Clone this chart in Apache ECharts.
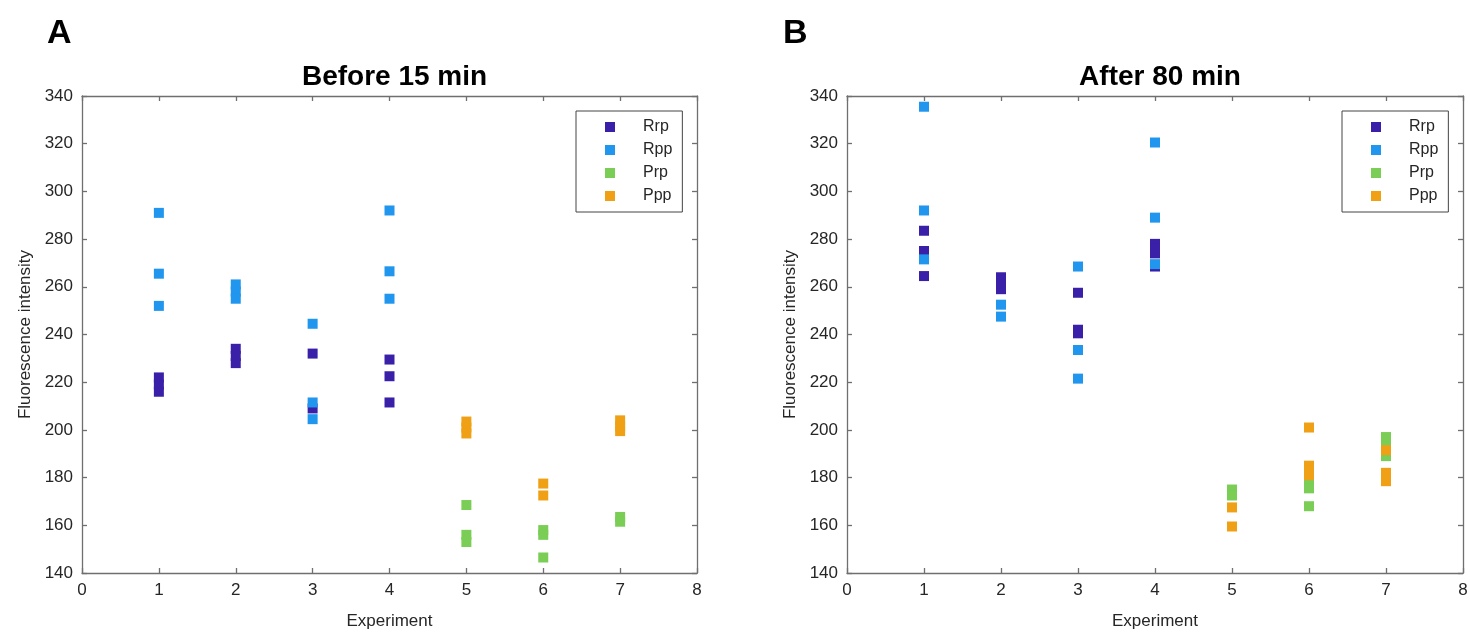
<!DOCTYPE html>
<html><head><meta charset="utf-8">
<script src="https://cdn.jsdelivr.net/npm/echarts@6/dist/echarts.min.js"></script>
<style>html,body{margin:0;padding:0;background:#fff}#c{width:1470px;height:633px}</style>
</head><body><div id="c"></div>
<script>
// Panel A: Before 15 min  [experiment, fluorescence intensity]
var beforeRrp = [[1,222],[1,219],[1,216],[2,234],[2,231],[2,228],[3,232],[3,209],[4,229.5],[4,222.5],[4,211.5]];
var beforeRpp = [[1,291],[1,265.5],[1,252],[2,261],[2,258],[2,255],[3,244.5],[3,211.5],[3,204.5],[4,292],[4,266.5],[4,255]];
var beforePrp = [[5,168.5],[5,156],[5,153],[6,158],[6,156],[6,146.5],[7,163.5],[7,161.5]];
var beforePpp = [[5,203.5],[5,201],[5,198.5],[6,177.5],[6,172.5],[7,204],[7,201.5],[7,199.5]];
// Panel B: After 80 min
var afterRrp = [[1,283.5],[1,275],[1,264.5],[2,264],[2,261.5],[2,259],[3,257.5],[3,242],[3,240.5],[4,278],[4,276],[4,274],[4,268.5]];
var afterRpp = [[1,335.5],[1,292],[1,271.5],[2,252.5],[2,247.5],[3,268.5],[3,233.5],[3,221.5],[4,320.5],[4,289],[4,269.5]];
var afterPrp = [[5,175],[5,172.5],[6,178.5],[6,175.5],[6,168],[7,197],[7,193],[7,189]];
var afterPpp = [[5,167.5],[5,159.5],[6,201],[6,185],[6,183],[6,181],[7,191.5],[7,182],[7,178.5]];

var seriesNames = ['Rrp','Rpp','Prp','Ppp'];
var seriesColors = ['#3A20A8','#2196EE','#7ACD55','#F0A015'];
var panelTitles = ['Before 15 min','After 80 min'];
var panelLetters = ['A','B'];
var xMin = 0, xMax = 8, xStep = 1;
var yMin = 140, yMax = 340, yStep = 20;

var FONT = 'Liberation Sans, Arial, sans-serif';
var AX = '#6f6f6f';
var grids = [
  {left: 82, top: 96, width: 615, height: 477, outerBoundsMode: 'none', containLabel: false},
  {left: 847, top: 96, width: 616, height: 477, outerBoundsMode: 'none', containLabel: false}
];

var xAxes = [], yAxes = [], series = [], legends = [], titles = [];
function axisCommon(showLabel){
  return {
    axisLine: {show: true, onZero: false, lineStyle: {color: AX, width: 1.3}},
    axisTick: {show: true, inside: true, length: 5, lineStyle: {color: AX, width: 1.3}},
    splitLine: {show: false},
    axisLabel: {show: showLabel, color: '#262626', fontSize: 17, fontFamily: FONT}
  };
}
var panelData = [[beforeRrp, beforeRpp, beforePrp, beforePpp],[afterRrp, afterRpp, afterPrp, afterPpp]];
for (var p = 0; p < 2; p++) {
  ['bottom','top'].forEach(function(pos, k){
    var a = axisCommon(k === 0);
    a.type = 'value'; a.gridIndex = p; a.position = pos;
    a.min = xMin; a.max = xMax; a.interval = xStep;
    a.axisLabel.margin = 9;
    if (k === 0) { a.name = 'Experiment'; a.nameLocation = 'middle'; a.nameGap = 40;
      a.nameTextStyle = {fontSize: 17, color: '#262626', fontFamily: FONT}; }
    xAxes.push(a);
  });
  ['left','right'].forEach(function(pos, k){
    var a = axisCommon(k === 0);
    a.type = 'value'; a.gridIndex = p; a.position = pos;
    a.min = yMin; a.max = yMax; a.interval = yStep;
    a.axisLabel.margin = 9;
    if (k === 0) { a.name = 'Fluorescence intensity'; a.nameLocation = 'middle'; a.nameGap = 48;
      a.nameTextStyle = {fontSize: 17, color: '#262626', fontFamily: FONT}; }
    yAxes.push(a);
  });
  for (var s = 0; s < 4; s++) {
    series.push({
      type: 'scatter', name: seriesNames[s], xAxisIndex: p*2, yAxisIndex: p*2,
      data: panelData[p][s], symbol: 'rect', symbolSize: 10,
      itemStyle: {color: seriesColors[s], opacity: 1}, z: 2 + s
    });
  }
  var g = grids[p];
  legends.push({
    orient: 'vertical', left: g.left + g.width - 121, top: 111,
    data: seriesNames.map(function(n, i){ return {name: n, icon: 'rect', itemStyle: {color: seriesColors[i]}}; }),
    itemWidth: 10, itemHeight: 10, itemGap: 7, itemStyle: {opacity: 1},
    textStyle: {fontSize: 16, color: '#262626', fontFamily: FONT, padding: [0, 0, 0, 23]},
    padding: [8, 10, 8, 29], borderColor: '#444', borderWidth: 1, backgroundColor: '#fff',
    selectedMode: false
  });
  titles.push({text: panelTitles[p], left: g.left + g.width/2, top: 58, textAlign: 'center',
    textStyle: {fontSize: 28, fontWeight: 'bold', color: '#000', fontFamily: FONT}});
  titles.push({text: panelLetters[p], left: p === 0 ? 42 : 778, top: 12,
    textStyle: {fontSize: 34, fontWeight: 'bold', color: '#000', fontFamily: FONT}});
}

var chart = echarts.init(document.getElementById('c'), null, {renderer: 'canvas'});
chart.setOption({
  animation: false, backgroundColor: '#fff',
  title: titles, grid: grids, xAxis: xAxes, yAxis: yAxes, legend: legends, series: series
});
</script></body></html>
